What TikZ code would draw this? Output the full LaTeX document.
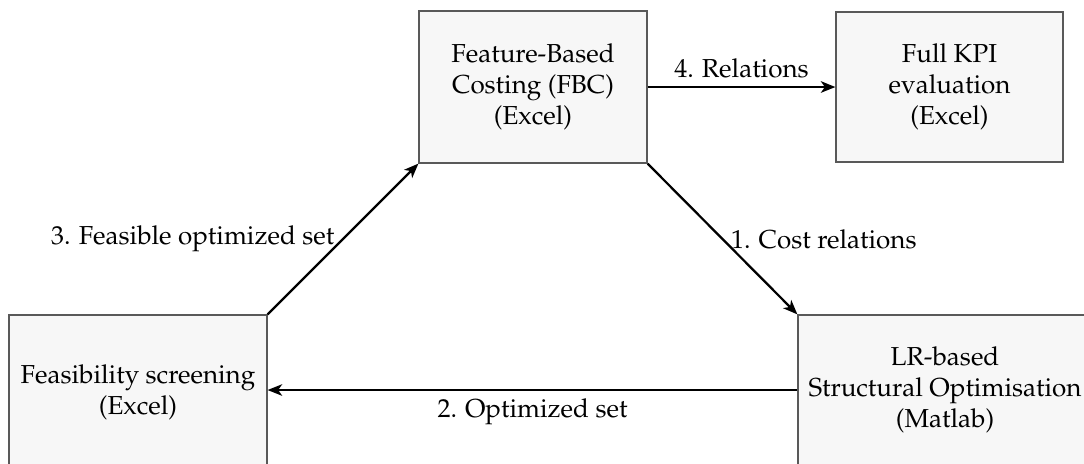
\documentclass[tikz,border=0pt]{standalone}
\usepackage[T1]{fontenc}
\usepackage{mathpazo}
\usetikzlibrary{arrows.meta}
\begin{document}
\begin{tikzpicture}[x=0.4pt,y=-0.4pt,
  every node/.style={font=\fontsize{10.4}{12.5}\selectfont},
  block/.style={draw=black!65, line width=0.5pt, fill=black!3, align=center, inner sep=2pt},
  arr/.style={-{Stealth[length=5.8pt,width=4.6pt,inset=1.6pt]}, line width=0.9pt, black},
  lbl/.style={inner sep=3pt}]
  \useasboundingbox (0,0) rectangle (1084,463);
  \clip (0,0) rectangle (1084,463);

  % tool blocks
  \node[block, minimum width=91.2pt, minimum height=60.8pt] (fbc) at (533,87)
    {Feature-Based\\Costing (FBC)\\(Excel)};
  \node[block, minimum width=90.8pt, minimum height=60pt] (kpi) at (949.5,87)
    {Full KPI\\evaluation\\(Excel)};
  \node[block, minimum width=103.2pt, minimum height=61.6pt] (fs) at (138,392)
    {Feasibility screening\\(Excel)};
  \node[block, minimum width=117.6pt, minimum height=60pt] (lr) at (945,390)
    {LR-based\\Structural Optimisation\\(Matlab)};

  % data flow between the tools
  \draw[arr] (fbc.east) -- node[lbl, above] {4. Relations} (kpi.west);
  \draw[arr] (fbc.south east) -- node[lbl, right] {1. Cost relations} (lr.north west);
  \draw[arr] (lr.west) -- node[lbl, below] {2. Optimized set} (lr.west -| fs.east);
  \draw[arr] (fs.north east) -- node[lbl, left] {3. Feasible optimized set} (fbc.south west);
\end{tikzpicture}
\end{document}
